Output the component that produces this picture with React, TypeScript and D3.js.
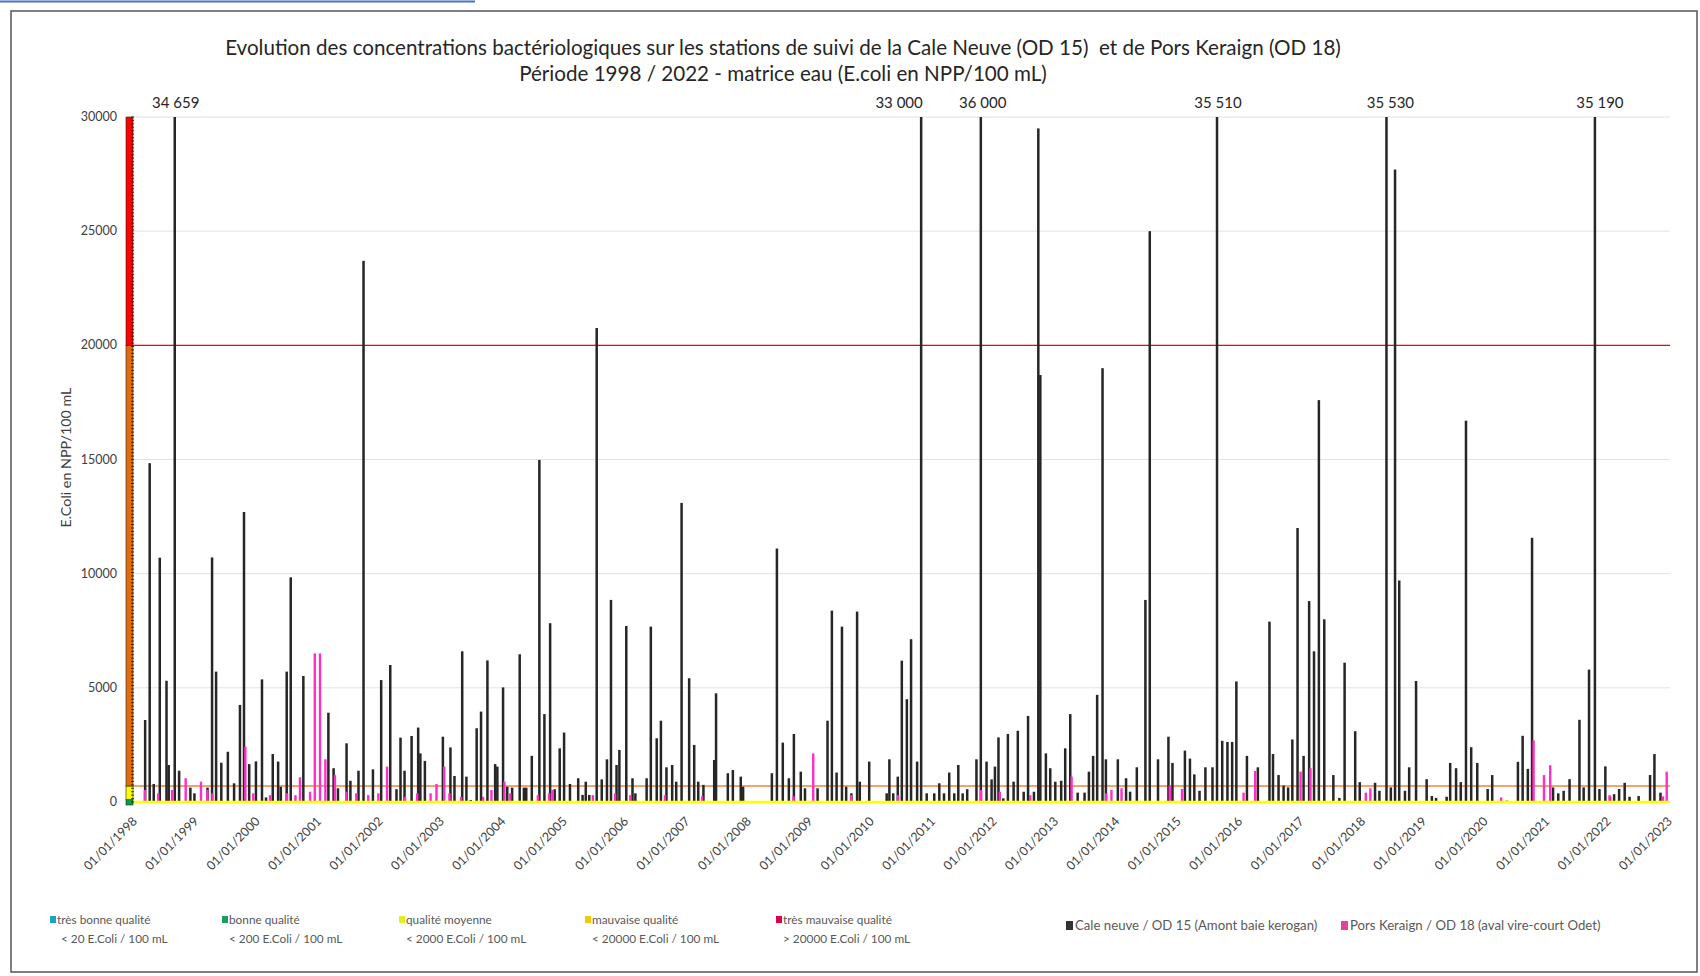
import * as d3 from "d3";

// Cale neuve / OD 15 — sampling dates and E.coli (NPP/100 mL)
const od15Dates = [
  "1998-03-14", "1998-04-10", "1998-05-04", "1998-06-09", "1998-07-19", "1998-08-01", "1998-09-06", "1998-10-02", "1998-12-08",
  "1999-01-01", "1999-03-20", "1999-04-16", "1999-05-10", "1999-06-10", "1999-07-19", "1999-08-25", "1999-09-29", "1999-10-23", "1999-11-23",
  "2000-01-02", "2000-02-07", "2000-03-02", "2000-04-11", "2000-05-13", "2000-05-29", "2000-07-03", "2000-07-27", "2000-10-10",
  "2001-03-08", "2001-04-08", "2001-05-04", "2001-06-24", "2001-07-17", "2001-09-03", "2001-10-03", "2001-11-28",
  "2002-01-16", "2002-03-11", "2002-04-17", "2002-05-11", "2002-06-04", "2002-07-16", "2002-08-24", "2002-09-06", "2002-10-03",
  "2003-01-18", "2003-03-04", "2003-03-28", "2003-05-13", "2003-06-07", "2003-07-03", "2003-08-07", "2003-09-02", "2003-10-10", "2003-11-25", "2003-12-08",
  "2004-01-11", "2004-02-05", "2004-03-05", "2004-04-19", "2004-05-14", "2004-05-28", "2004-06-30", "2004-08-14", "2004-09-13", "2004-10-17", "2004-11-13", "2004-12-13",
  "2005-01-08", "2005-02-12", "2005-04-02", "2005-04-28", "2005-05-17", "2005-06-07", "2005-07-21", "2005-08-20", "2005-09-20", "2005-10-14", "2005-11-16", "2005-12-03",
  "2006-01-13", "2006-02-19", "2006-03-08", "2006-05-14", "2006-06-08", "2006-07-13", "2006-08-07", "2006-09-09", "2006-10-13", "2006-11-06", "2006-12-08",
  "2007-01-22", "2007-02-21", "2007-03-17", "2007-04-17", "2007-06-20", "2007-07-01", "2007-09-09", "2007-10-09", "2007-11-25", "2007-12-09",
  "2008-05-28", "2008-06-27", "2008-08-01", "2008-09-06", "2008-10-06", "2008-11-16", "2008-12-11",
  "2009-02-24", "2009-04-24", "2009-05-20", "2009-06-17", "2009-07-19", "2009-08-13", "2009-09-13", "2009-10-17", "2009-11-02", "2009-12-28",
  "2010-04-11", "2010-04-27", "2010-05-20", "2010-06-16", "2010-07-10", "2010-08-09", "2010-09-03", "2010-10-09", "2010-11-02", "2010-12-05",
  "2011-01-19", "2011-02-18", "2011-03-18", "2011-04-18", "2011-05-18", "2011-06-11", "2011-07-07", "2011-08-03", "2011-09-27", "2011-10-23", "2011-11-26", "2011-12-26",
  "2012-01-15", "2012-02-05", "2012-03-05", "2012-04-01", "2012-05-05", "2012-05-30", "2012-07-04", "2012-07-30", "2012-09-03", "2012-09-29", "2012-10-11", "2012-11-13", "2012-12-09",
  "2013-01-08", "2013-02-12", "2013-03-08", "2013-04-07", "2013-05-21", "2013-07-01", "2013-07-27", "2013-08-21", "2013-09-14", "2013-10-16", "2013-11-05",
  "2014-01-15", "2014-03-05", "2014-03-29", "2014-05-08", "2014-06-28", "2014-07-24", "2014-09-11", "2014-11-12", "2014-12-06",
  "2015-02-18", "2015-03-20", "2015-04-15", "2015-05-16", "2015-06-20", "2015-08-01", "2015-08-28", "2015-09-28", "2015-10-29", "2015-11-26", "2015-12-21",
  "2016-02-22", "2016-04-27", "2016-07-05", "2016-07-26", "2016-08-28", "2016-09-27", "2016-10-24", "2016-11-18", "2016-12-19",
  "2017-01-24", "2017-02-26", "2017-03-27", "2017-04-25", "2017-05-27", "2017-07-20", "2017-08-25", "2017-09-25", "2017-11-27", "2017-12-24",
  "2018-03-25", "2018-04-20", "2018-06-01", "2018-06-27", "2018-07-22", "2018-08-16", "2018-09-19", "2018-10-14", "2018-11-24",
  "2019-01-26", "2019-02-26", "2019-03-23", "2019-05-25", "2019-06-15", "2019-07-20", "2019-08-17", "2019-09-17", "2019-10-18", "2019-11-23",
  "2020-01-24", "2020-02-20", "2020-05-17", "2020-07-22", "2020-08-19", "2020-09-19", "2020-10-14",
  "2021-02-16", "2021-03-19", "2021-04-20", "2021-05-25", "2021-07-23", "2021-08-17", "2021-09-18", "2021-10-23", "2021-11-19", "2021-12-24",
  "2022-01-21", "2022-02-14", "2022-03-16", "2022-04-18", "2022-05-17", "2022-07-10", "2022-09-16", "2022-10-12", "2022-11-17",
];
const od15Values = [
  3590, 14840, 790, 10700, 5310, 1620, 34659, 1370, 630,
  380, 630, 10710, 5710, 1720, 2200, 820, 4250, 12700, 1660,
  1780, 5370, 200, 2100, 1770, 670, 5710, 9840, 5520,
  3910, 1480, 600, 2570, 930, 1370, 23700, 1430,
  5340, 6000, 560, 2820, 1370, 2890, 3260, 2130, 1800,
  2860, 2390, 1140, 6600, 1110, 90, 3230, 3960, 6200, 1660, 1550,
  5020, 670, 630, 6470, 630, 630, 2020, 14980, 3850, 7830, 560, 2350,
  3040, 790, 1040, 310, 890, 310, 20760, 990, 1870, 8850, 1620, 2280,
  7710, 1040, 380, 1040, 7680, 2790, 3560, 1520, 1620, 890, 13100,
  5420, 2500, 890, 750, 1840, 4760, 1260, 1400, 1110, 670,
  1260, 11100, 2600, 1040, 2980, 1330, 600,
  600, 3560, 8380, 1290, 7680, 670, 380, 8340, 890, 1770,
  380, 1870, 380, 1110, 6190, 4500, 7130, 1770, 33000, 380,
  380, 820, 380, 1290, 380, 1620, 380, 560, 1870, 36000, 1770, 990,
  1550, 2830, 160, 2980, 890, 3120, 450, 3770, 450, 29500, 18700, 2130, 1480,
  890, 930, 2350, 3850, 410, 410, 1330, 2020, 4690, 19000, 1870,
  1870, 1040, 450, 1520, 8850, 25000, 1870, 2860, 1710,
  2250, 1900, 1210, 490, 1520, 1520, 35510, 2680, 2630, 2630, 5280,
  2020, 1520, 7900, 2100, 1180, 720, 640, 2740, 12000,
  2020, 8800, 6600, 17600, 8000, 1180, 180, 6100, 3100, 870,
  840, 490, 35530, 640, 27700, 9700, 490, 1520, 5300,
  1000, 260, 180, 230, 1710, 1480, 870, 16700, 2400, 1710,
  570, 1180, 60, 1760, 2900, 1450, 11570,
  640, 380, 490, 1000, 3600, 640, 5800, 35190, 570, 1560,
  230, 340, 570, 840, 230, 260, 1180, 2100, 410,
];

// Pors Keraign / OD 18
const od18Dates = [
  "1998-03-04", "1998-05-23", "1998-08-13", "1998-11-02", "1999-02-01", "1999-03-11", "1999-04-10", "1999-10-23", "1999-12-09",
  "2000-03-18", "2000-06-27", "2000-08-16", "2000-09-12", "2000-11-11", "2000-12-09", "2001-01-09", "2001-02-10", "2001-04-08",
  "2001-06-14", "2001-08-13", "2001-10-23", "2001-12-22", "2002-02-12", "2002-05-30", "2002-08-10", "2002-10-29", "2002-12-03",
  "2003-01-18", "2003-02-18", "2003-04-28", "2003-09-06", "2003-10-26", "2004-01-11", "2004-02-15", "2004-07-28", "2004-10-03",
  "2004-10-23", "2005-06-20", "2005-10-30", "2006-01-29", "2006-08-23", "2007-04-01", "2008-09-26", "2009-01-21", "2009-09-03",
  "2010-06-10", "2011-10-17", "2012-02-05", "2012-08-04", "2013-04-07", "2013-10-30", "2013-11-30", "2014-01-29", "2014-11-12",
  "2015-01-24", "2016-01-25", "2016-04-03", "2016-12-29", "2017-02-26", "2018-01-21", "2018-02-17", "2020-04-05", "2020-10-15",
  "2020-12-16", "2021-01-22", "2022-01-10", "2022-11-24", "2022-12-16",
];
const od18Values = [
  525, 380, 525, 1040, 890, 525, 380, 2420, 380,
  300, 380, 300, 1080, 450, 6510, 6510, 1870, 1180,
  450, 380, 300, 380, 1550, 230, 380, 380, 790,
  1550, 380, 230, 230, 525, 890, 380, 300, 380,
  525, 300, 380, 300, 300, 250, 250, 2130, 300,
  300, 525, 450, 300, 1110, 380, 530, 600, 720,
  570, 410, 1360, 1330, 1480, 410, 600, 200, 2700,
  1180, 1610, 300, 250, 1330,
];

const yTicks = [0, 5000, 10000, 15000, 20000, 25000, 30000];
const years = d3.range(1998, 2024);
const yMax = 30000;

// quality bands painted on the value axis
const bandLimits = [0, 100, 700, 20000, 30000];
const bandColors = ["#00a04a", "#ffff00", "#e36c0a", "#ff0000"];
const thresholdRed = 20000;
const thresholdOrange = 700;

const titleLines = [
  "Evolution des concentrations bactériologiques sur les stations de suivi de la Cale Neuve (OD 15)  et de Pors Keraign (OD 18)",
  "Période 1998 / 2022 - matrice eau (E.coli en NPP/100 mL)",
];

const qualityNames = ["très bonne qualité", "bonne qualité", "qualité moyenne", "mauvaise qualité", "très mauvaise qualité"];
const qualityRanges = ["< 20 E.Coli / 100 mL", "< 200 E.Coli / 100 mL", "< 2000 E.Coli / 100 mL", "< 20000 E.Coli / 100 mL", "> 20000 E.Coli / 100 mL"];
const qualityColors = ["#1ba3c6", "#1b9e5e", "#e2f01e", "#f5c800", "#e0004d"];
const seriesNames = ["Cale neuve / OD 15 (Amont baie kerogan)", "Pors Keraign / OD 18 (aval vire-court Odet)"];
const seriesColors = ["#262626", "#ff2ec8"];
const legendSwatch = ["#333333", "#e8409e"];

const W = 1700;
const H = 976;
const font = "Lato, 'Open Sans', sans-serif";

const fr = d3.formatLocale({ decimal: ",", thousands: " ", grouping: [3], currency: ["", " €"] });
const fmtPeak = fr.format(",d");

export default function App() {
  const x = d3.scaleTime().domain([new Date(1998, 0, 1), new Date(2023, 0, 1)]).range([133, 1668]);
  const y = d3.scaleLinear().domain([0, yMax]).range([802, 117]);
  const parse = d3.timeParse("%Y-%m-%d");

  const s15 = od15Dates.map((d, i) => ({ date: parse(d) as Date, v: od15Values[i] }));
  const s18 = od18Dates.map((d, i) => ({ date: parse(d) as Date, v: od18Values[i] }));
  const peaks = s15.filter(d => d.v > yMax);
  const peakNudge = [1, -22, 2, 1, 4, 5];

  const x0 = x.range()[0];
  const x1 = x.range()[1] + 2;

  return (
    <svg width={W} height={H} style={{ position: "absolute", left: 0, top: 0, background: "#fff" }} fontFamily={font}>
      <line x1={0} x2={475} y1={1.5} y2={1.5} stroke="#4472c4" strokeWidth={2} />
      <rect x={11} y={11} width={1686} height={961} fill="none" stroke="#555" strokeWidth={1.5} />

      {titleLines.map((t, i) => (
        <text key={t} x={783} y={55 + i * 26} textAnchor="middle" fontSize={20.6} fill="#262626" style={{ whiteSpace: "pre" }}>{t}</text>
      ))}

      {/* gridlines */}
      {yTicks.filter(t => t > 0).map(t => (
        <line key={t} x1={x0} x2={x1} y1={y(t)} y2={y(t)} stroke="#e2e2e2" strokeWidth={1} />
      ))}

      {/* y tick labels */}
      {yTicks.map(t => (
        <text key={t} x={117} y={y(t) + 4} textAnchor="end" fontSize={12.5} fill="#404040">{d3.format("d")(t)}</text>
      ))}
      <text transform={`translate(71,${y(15000) - 2}) rotate(-90)`} textAnchor="middle" fontSize={14.3} fill="#404040">E.Coli en NPP/100 mL</text>

      {/* threshold lines */}
      <line x1={x0} x2={x1} y1={y(thresholdRed)} y2={y(thresholdRed)} stroke="#ff0000" strokeWidth={1.3} />
      <line x1={x0} x2={x1} y1={y(thresholdOrange)} y2={y(thresholdOrange)} stroke="#f0843c" strokeWidth={1.5} />

      {/* bars */}
      {s15.map((d, i) => {
        const top = y(Math.min(d.v, yMax));
        return <rect key={"a" + i} x={x(d.date) - 1.2} y={top} width={2.5} height={y(0) - top} fill={seriesColors[0]} />;
      })}
      {s18.map((d, i) => {
        const top = y(Math.min(d.v, yMax));
        return <rect key={"b" + i} x={x(d.date) + 0.2} y={top} width={2.4} height={y(0) - top} fill={seriesColors[1]} />;
      })}

      <line x1={x0} x2={x1} y1={y(0)} y2={y(0)} stroke="#ffff00" strokeWidth={2.5} />

      {/* quality band on value axis */}
      {bandColors.map((c, i) => (
        <rect key={c} x={126} y={y(bandLimits[i + 1])} width={7} height={y(bandLimits[i]) - y(bandLimits[i + 1]) + (i === 0 ? 3 : 0)} fill={c} stroke="#222" strokeWidth={0.6} />
      ))}
      {d3.range(0, yMax + 1, 150).map(v => (
        <line key={v} x1={131} x2={134} y1={y(v)} y2={y(v)} stroke="#111" strokeWidth={0.8} />
      ))}

      {/* peak labels */}
      {peaks.map((d, i) => {
        const cx = x(d.date) + peakNudge[i];
        return (
          <g key={"p" + i}>
            <rect x={cx - 30} y={92} width={60} height={22} fill="#fff" />
            <text x={cx} y={108} textAnchor="middle" fontSize={15} fill="#262626">{fmtPeak(d.v)}</text>
          </g>
        );
      })}

      {/* x tick labels */}
      {years.map(yr => (
        <text key={yr} transform={`translate(${x(new Date(yr, 0, 1)) + 5},${822}) rotate(-45)`} textAnchor="end" fontSize={12.5} fill="#404040">
          {`01/01/${yr}`}
        </text>
      ))}

      {/* legend */}
      {qualityNames.map((n, i) => {
        const lx = [50, 222, 399, 585, 776][i];
        return (
          <g key={n}>
            <rect x={lx} y={916} width={6} height={7} fill={qualityColors[i]} />
            <text x={lx + 7} y={924} fontSize={11.8} fill="#595959">{n}</text>
            <text x={lx + (i === 0 ? 11 : 7)} y={943} fontSize={11.8} fill="#595959">{qualityRanges[i]}</text>
          </g>
        );
      })}
      {seriesNames.map((n, i) => {
        const lx = [1066, 1341][i];
        return (
          <g key={n}>
            <rect x={lx} y={921} width={7} height={9} fill={legendSwatch[i]} />
            <text x={lx + 9} y={930} fontSize={13.2} fill="#595959">{n}</text>
          </g>
        );
      })}
    </svg>
  );
}
